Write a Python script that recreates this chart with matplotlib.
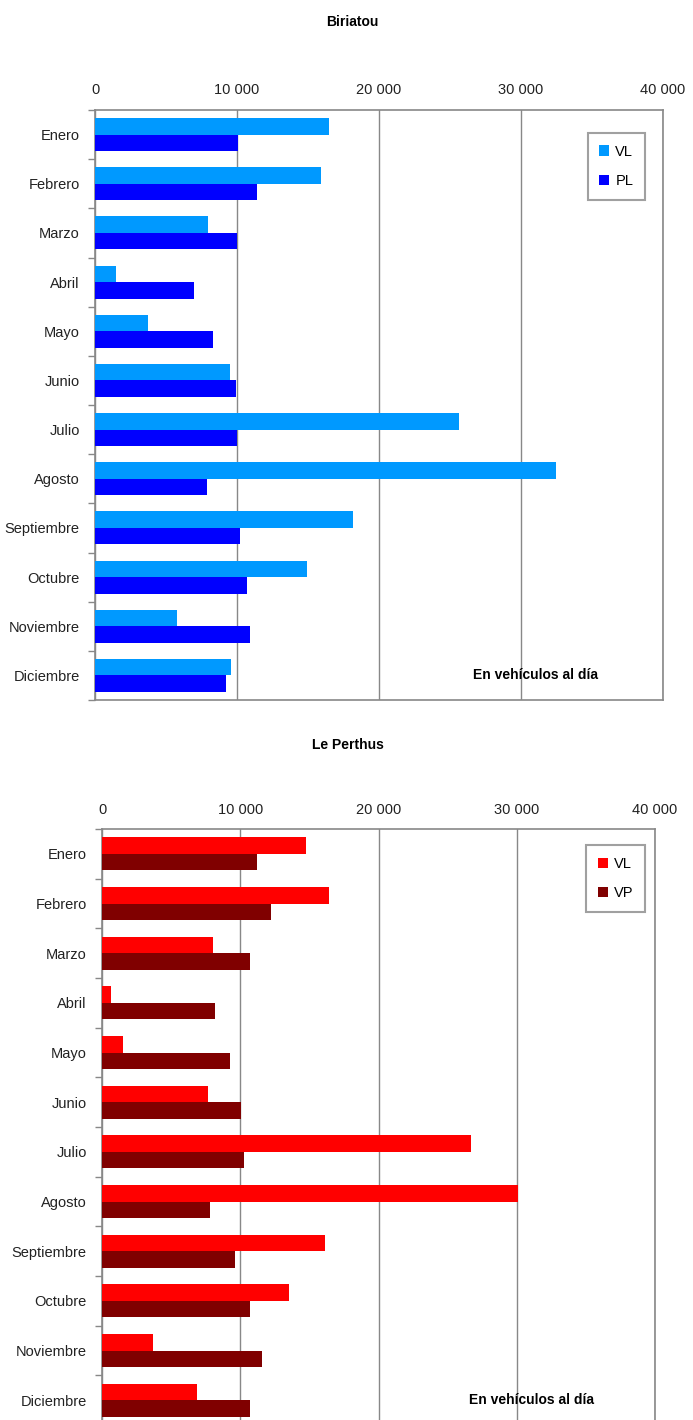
import matplotlib
matplotlib.use("Agg")
import matplotlib.pyplot as plt
import numpy as np
from matplotlib.ticker import FuncFormatter, FixedLocator

plt.rcParams['font.family'] = ['Liberation Sans', 'DejaVu Sans']

months = ["Enero", "Febrero", "Marzo", "Abril", "Mayo", "Junio", "Julio",
          "Agosto", "Septiembre", "Octubre", "Noviembre", "Diciembre"]

biriatou_vl = [16500, 15900, 7950, 1500, 3700, 9500, 25600, 32500, 18200, 14900, 5800, 9600]
biriatou_pl = [10100, 11400, 10000, 7000, 8300, 9900, 10000, 7900, 10200, 10700, 10900, 9200]

perthus_vl = [14750, 16400, 8000, 650, 1500, 7700, 26700, 30100, 16100, 13500, 3700, 6900]
perthus_vp = [11200, 12200, 10700, 8200, 9250, 10050, 10300, 7800, 9600, 10700, 11600, 10700]

xticks = [0, 10000, 20000, 30000, 40000]

fig = plt.figure(figsize=(6.93, 14.20), dpi=100)

def fmt(v, pos):
    v = int(round(v))
    if v == 0:
        return "0"
    return f"{v:,}".replace(",", " ")

def draw(ax, a, b, ca, cb, la, lb, title, title_x, title_y, leg_anchor):
    y = np.arange(len(months))
    h = 0.335
    ax.barh(y - h / 2, a, height=h, color=ca, label=la, zorder=3)
    ax.barh(y + h / 2, b, height=h, color=cb, label=lb, zorder=3)
    ax.set_ylim(len(months) - 0.5, -0.5)
    ax.set_xlim(0, 40000)
    ax.xaxis.tick_top()
    ax.xaxis.set_major_locator(FixedLocator(xticks))
    ax.xaxis.set_major_formatter(FuncFormatter(fmt))
    ax.tick_params(axis='x', length=0, labelsize=10.5, pad=9, colors='#222222')
    ax.set_yticks(y)
    ax.set_yticklabels(months)
    ax.tick_params(axis='y', which='major', length=0, labelsize=10.5, pad=11, colors='#222222')
    ax.set_yticks(np.arange(-0.5, len(months) + 0.5, 1), minor=True)
    ax.tick_params(axis='y', which='minor', length=5, color='#888888', width=1)
    ax.grid(axis='x', color='#888888', linewidth=1, zorder=0)
    for s in ax.spines.values():
        s.set_color('#888888')
        s.set_linewidth(1.2)
    leg = ax.legend(loc='upper right', bbox_to_anchor=leg_anchor, frameon=True,
                    fancybox=False, edgecolor='#888888', fontsize=10.5,
                    handlelength=0.7, handleheight=0.7, handletextpad=0.4,
                    labelspacing=1.05, borderpad=0.8, borderaxespad=0)
    leg.get_frame().set_linewidth(1.5)
    fig.text(title_x, title_y, title, ha='center', va='center', fontsize=10, fontweight='bold')

ax1 = fig.add_axes([95 / 693, 1 - 700 / 1420, (663 - 95) / 693, (700 - 110) / 1420])
draw(ax1, biriatou_vl, biriatou_pl, '#0099FF', '#0000FF', 'VL', 'PL', 'Biriatou',
     352 / 693, 1 - 22 / 1420, (0.968, 0.961))
ax1.text(31000, 11.0, "En vehículos al día", ha='center', va='center',
         fontsize=10, fontweight='bold', zorder=5)

ax2 = fig.add_axes([102 / 693, 1 - 1425 / 1420, (655 - 102) / 693, (1425 - 829) / 1420])
draw(ax2, perthus_vl, perthus_vp, '#FF0000', '#800000', 'VL', 'VP', 'Le Perthus',
     348 / 693, 1 - 745 / 1420, (0.982, 0.973))
ax2.text(31100, 11.0, "En vehículos al día", ha='center', va='center',
         fontsize=10, fontweight='bold', zorder=5)

fig.savefig("out.png", dpi=100, facecolor='white')
